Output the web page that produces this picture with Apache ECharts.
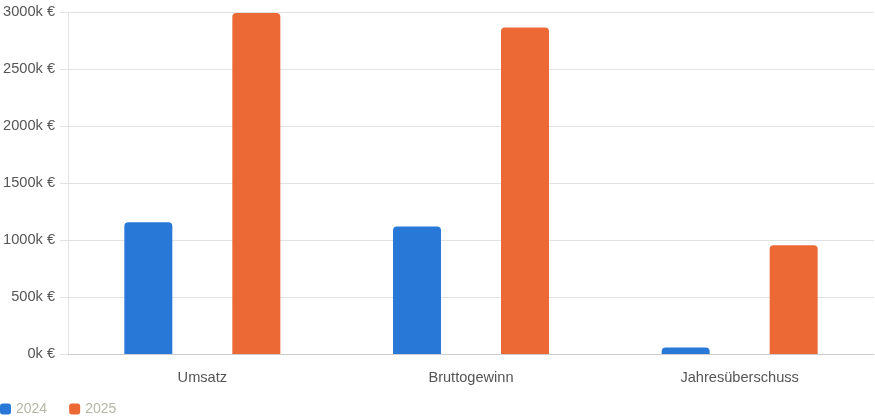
<!DOCTYPE html>
<html>
<head>
<meta charset="utf-8">
<script src="https://cdn.jsdelivr.net/npm/echarts@6/dist/echarts.min.js"></script>
<style>
html,body{margin:0;padding:0;background:#fff;}
#c{width:875px;height:417px;}
</style>
</head>
<body>
<div id="c"></div>
<script>
var categories = ['Umsatz', 'Bruttogewinn', 'Jahresüberschuss'];
var series2024 = [1155, 1118, 58];
var series2025 = [2992, 2864, 955];
var seriesNames = ['2024', '2025'];
var colors = ['#2878d8', '#ec6834'];

var chart = echarts.init(document.getElementById('c'));
chart.setOption({
  animation: false,
  textStyle: { fontFamily: 'Liberation Sans, Arial, sans-serif' },
  grid: { left: 68, right: 1, top: 12, bottom: 63, containLabel: false },
  legend: {
    left: 0, top: 402, padding: 0,
    itemWidth: 11, itemHeight: 11, itemGap: 22,
    icon: 'roundRect',
    textStyle: { color: '#b6b6a8', fontSize: 14 },
    data: seriesNames
  },
  xAxis: {
    type: 'category',
    data: categories,
    axisLine: { lineStyle: { color: '#cccccc' } },
    axisTick: { show: false },
    axisLabel: { color: '#555', fontSize: 14.6, margin: 16 }
  },
  yAxis: {
    type: 'value',
    min: 0, max: 3000, interval: 500,
    axisLine: { show: true, lineStyle: { color: '#e2e2e2' } },
    axisTick: { show: true, length: 8, lineStyle: { color: '#e2e2e2' } },
    splitLine: { lineStyle: { color: '#e2e2e2' } },
    axisLabel: { color: '#555', fontSize: 14.6, margin: 13, formatter: function (v) { return v + 'k €'; } }
  },
  series: [
    { name: seriesNames[0], type: 'bar', data: series2024, barWidth: 48, barGap: '125%',
      itemStyle: { color: colors[0], borderRadius: [4, 4, 0, 0] } },
    { name: seriesNames[1], type: 'bar', data: series2025, barWidth: 48, barGap: '125%',
      itemStyle: { color: colors[1], borderRadius: [4, 4, 0, 0] } }
  ]
});
</script>
</body>
</html>
